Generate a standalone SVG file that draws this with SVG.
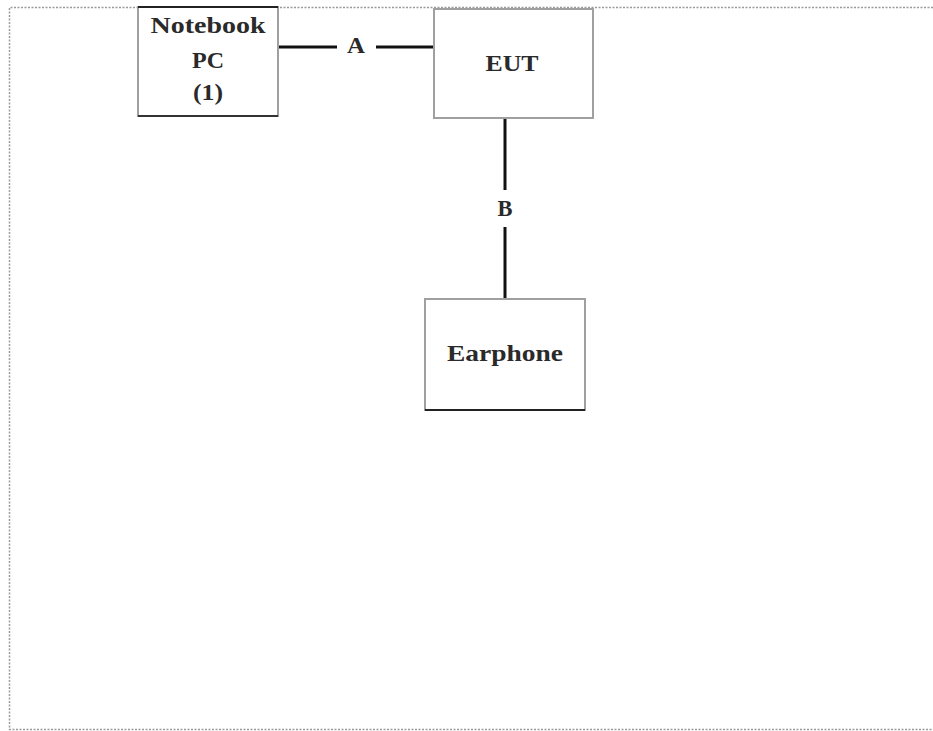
<svg xmlns="http://www.w3.org/2000/svg" width="933" height="731" viewBox="0 0 933 731">
<style>
.frame{fill:none;stroke:#9a9a9a;stroke-width:1.5;stroke-dasharray:2 1.5}
.box{fill:#fff;stroke:#a0a0a0;stroke-width:2}
.edge{stroke:#111;stroke-width:3;fill:none}
.t{font-family:"Liberation Serif","Times New Roman",serif;font-weight:bold;font-size:24px;fill:#2a2a2a;text-anchor:middle}
</style>
<rect width="933" height="731" fill="#fff"/>
<path class="frame" d="M933 7.5 H9.5 V729.5 H933"/>
<g id="connectors">
<line class="edge" x1="278" y1="47" x2="337" y2="47"/>
<line class="edge" x1="376" y1="47" x2="434" y2="47"/>
<text class="t" x="356" y="53" textLength="18" lengthAdjust="spacingAndGlyphs">A</text>
<line class="edge" x1="505" y1="118" x2="505" y2="190"/>
<line class="edge" x1="505" y1="227" x2="505" y2="299"/>
<text class="t" x="505" y="216" textLength="15" lengthAdjust="spacingAndGlyphs">B</text>
</g>
<g id="notebook">
<rect class="box" x="138" y="7" width="140" height="109"/>
<line x1="138" y1="7" x2="278" y2="7" stroke="#222" stroke-width="2"/>
<line x1="138" y1="116" x2="278" y2="116" stroke="#333" stroke-width="2"/>
<text class="t" x="208" y="33" textLength="115" lengthAdjust="spacingAndGlyphs">Notebook</text>
<text class="t" x="208" y="68" textLength="32" lengthAdjust="spacingAndGlyphs">PC</text>
<text class="t" x="208" y="100" textLength="30" lengthAdjust="spacingAndGlyphs">(1)</text>
</g>
<g id="eut">
<rect class="box" x="434" y="9" width="159" height="109"/>
<text class="t" x="512" y="71" textLength="53" lengthAdjust="spacingAndGlyphs">EUT</text>
</g>
<g id="earphone">
<rect class="box" x="425" y="299" width="160" height="111"/>
<line x1="425" y1="410" x2="585" y2="410" stroke="#222" stroke-width="2"/>
<text class="t" x="505" y="361" textLength="116" lengthAdjust="spacingAndGlyphs">Earphone</text>
</g>
</svg>
